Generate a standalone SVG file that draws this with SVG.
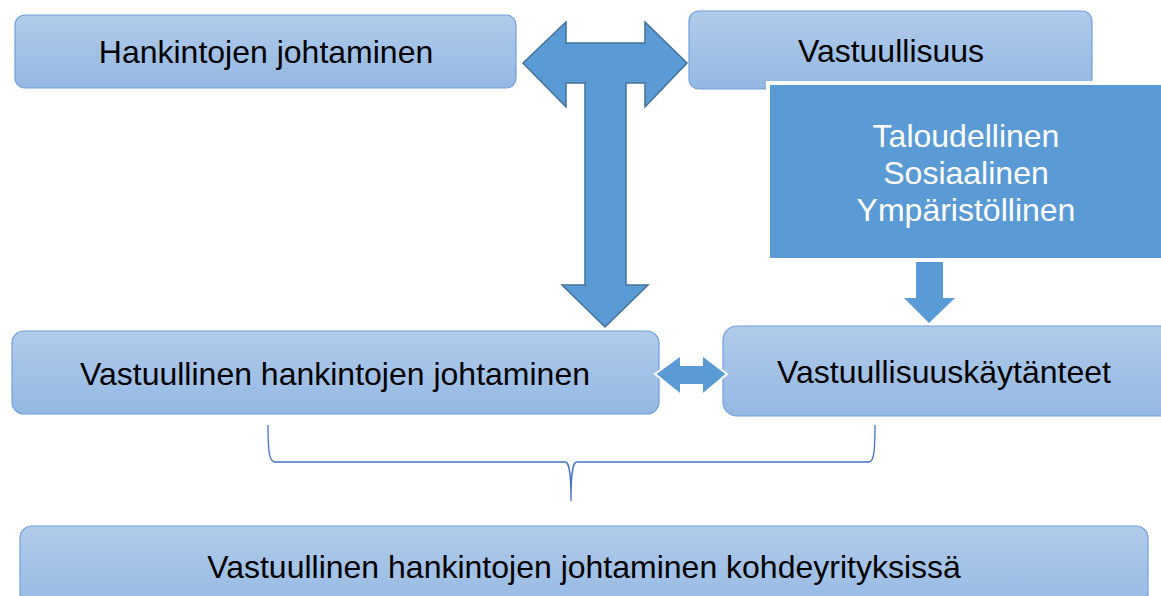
<svg xmlns="http://www.w3.org/2000/svg" width="1161" height="596" viewBox="0 0 1161 596">
<defs>
<linearGradient id="g" x1="0" y1="0" x2="0" y2="1">
<stop offset="0" stop-color="#B1CBEA"/>
<stop offset="1" stop-color="#94B8E3"/>
</linearGradient>
<style>
.box{fill:url(#g);stroke:#6FA0DC;stroke-width:1.2}
.t{font-family:"Liberation Sans",Arial,sans-serif;font-size:32px;fill:#000;text-anchor:middle}
.w{font-family:"Liberation Sans",Arial,sans-serif;font-size:32px;fill:#fff;text-anchor:middle}
.arr{fill:#5B9BD5;stroke:#41719C;stroke-width:1.5}
.brace{fill:none;stroke:#4472C4;stroke-width:1.3}
</style>
</defs>
<rect width="1161" height="596" fill="#fff"/>
<g id="hankintojen">
<rect class="box" x="15" y="15" width="501" height="73" rx="10"/>
<text class="t" x="266" y="63">Hankintojen johtaminen</text>
</g>
<g id="vastuullisuus">
<rect class="box" x="689" y="11" width="403" height="78" rx="10"/>
<text class="t" x="891" y="62">Vastuullisuus</text>
</g>
<g id="ulottuvuudet">
<rect x="768" y="83" width="400" height="177" fill="#5B9BD5" stroke="#fff" stroke-width="4"/>
<text class="w" x="966" y="147">Taloudellinen</text>
<text class="w" x="966" y="184">Sosiaalinen</text>
<text class="w" x="966" y="221">Ympäristöllinen</text>
</g>
<g id="vastuullinen-hankinta">
<rect class="box" x="12" y="331" width="647" height="83" rx="12"/>
<text class="t" x="335" y="385">Vastuullinen hankintojen johtaminen</text>
</g>
<g id="kaytanteet">
<rect class="box" x="723" y="326" width="450" height="90" rx="14"/>
<text class="t" x="944" y="383">Vastuullisuuskäytänteet</text>
</g>
<g id="kohdeyritykset">
<rect class="box" x="20" y="526" width="1128" height="90" rx="12"/>
<text class="t" x="584" y="578">Vastuullinen hankintojen johtaminen kohdeyrityksissä</text>
</g>
<g id="connectors">
<path class="arr" d="M523,63 L566,22 L566,43 L645,43 L645,22 L687,63 L645,107 L645,83 L626,83 L626,285 L648,285 L605,327 L562,285 L585,285 L585,83 L566,83 L566,107 Z"/>
<path d="M655,374 L681,355 L681,365 L702,365 L702,355 L727,374 L702,395 L702,385 L681,385 L681,395 Z" fill="#5B9BD5" stroke="#fff" stroke-width="2"/>
<path d="M916,262 L943,262 L943,298 L955,298 L929,323 L904,298 L916,298 Z" fill="#5B9BD5"/>
<path class="brace" d="M268,425 C268,450 269,462 275,462 L565,462 C569,462 571,470 571,501 C571,470 573,462 577,462 L869,462 C874,462 875,450 875,425"/>
</g>
</svg>
